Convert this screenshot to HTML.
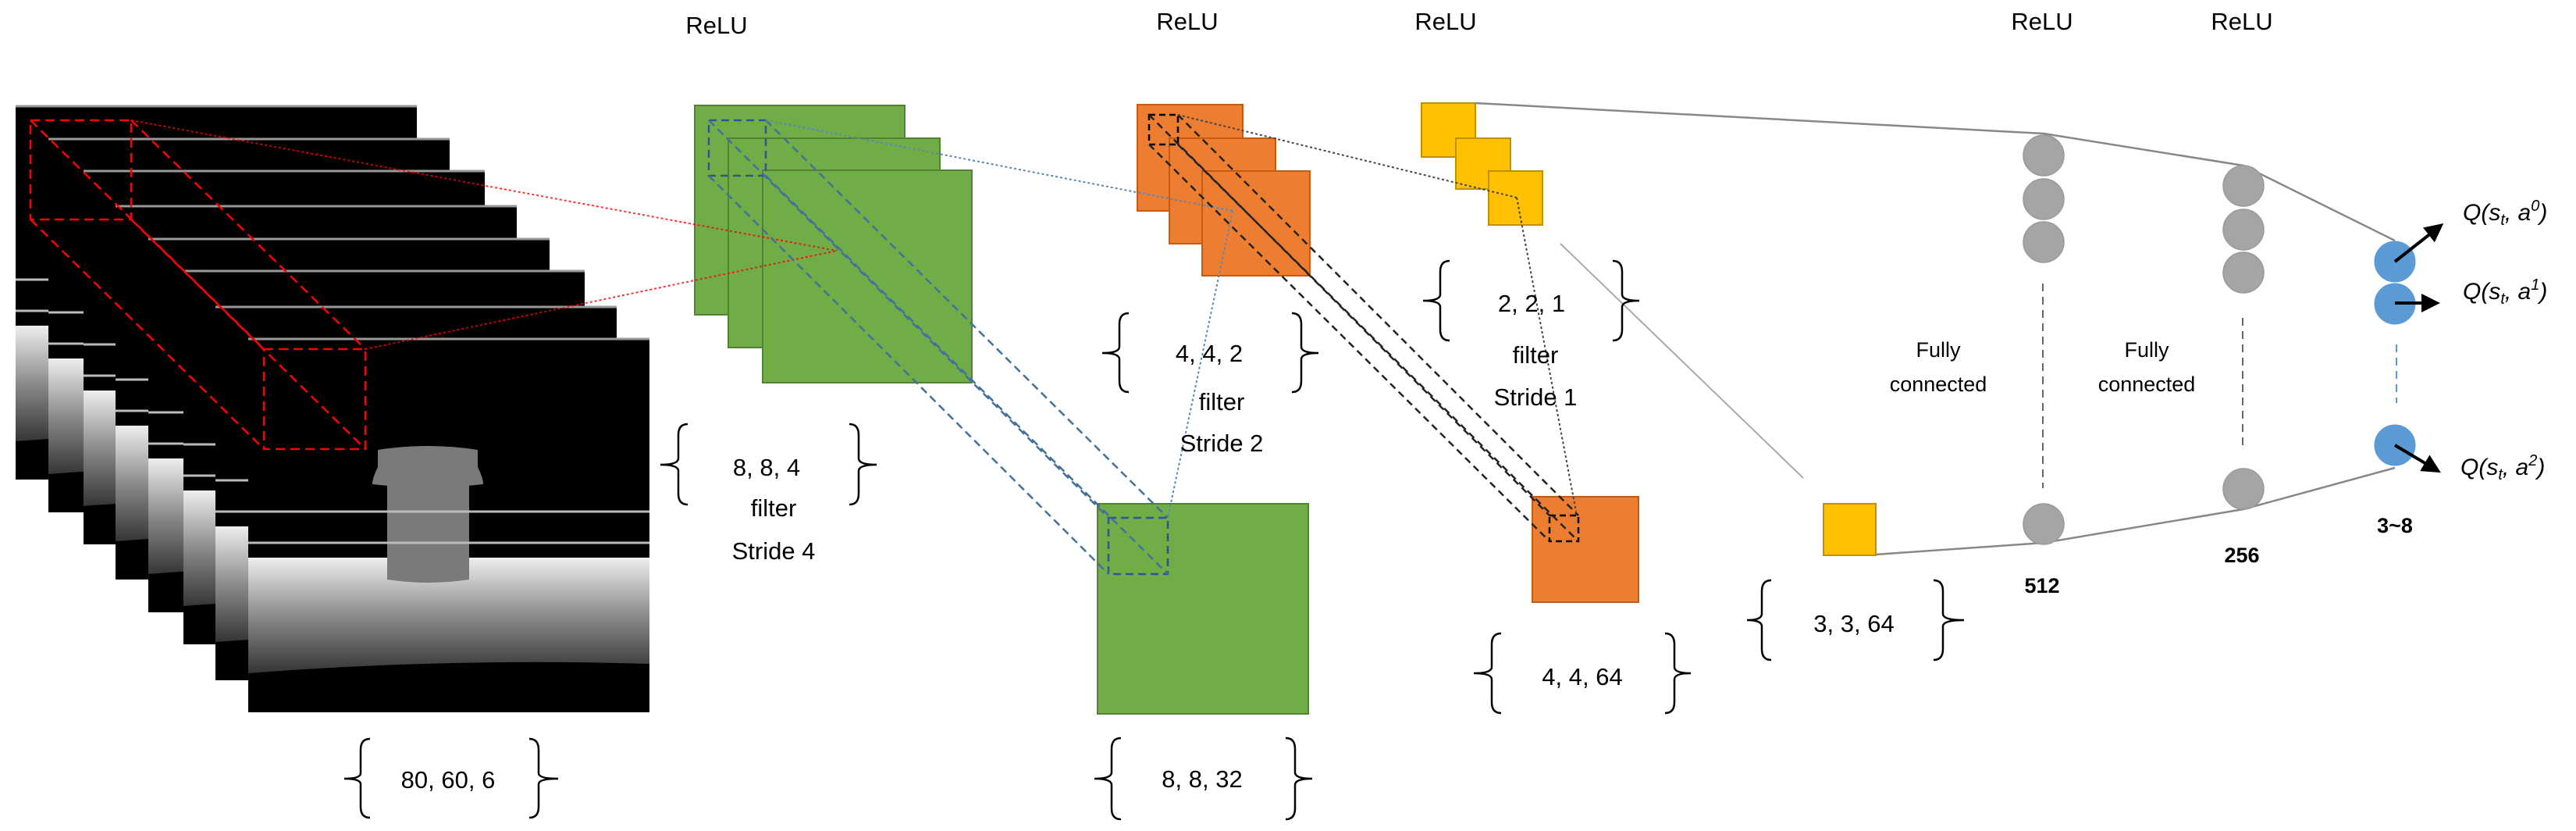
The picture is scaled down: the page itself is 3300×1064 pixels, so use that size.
<!DOCTYPE html>
<html><head><meta charset="utf-8"><style>
html,body{margin:0;padding:0;background:#fff;overflow:hidden;}
svg{display:block;}
text{font-family:"Liberation Sans",sans-serif;}
</style></head><body>
<svg width="3300" height="1064" viewBox="0 0 3300 1064" xmlns="http://www.w3.org/2000/svg">
<defs>
<linearGradient id="g" x1="0" y1="0" x2="0" y2="1">
<stop offset="0" stop-color="#eeeeee"/><stop offset="0.5" stop-color="#8a8a8a"/><stop offset="1" stop-color="#333"/>
</linearGradient>
<g id="frame">
<rect x="0" y="0" width="514" height="479" fill="#000"/>
<line x1="0" y1="1" x2="514" y2="1" stroke="#999" stroke-width="3"/>
<line x1="0" y1="223" x2="514" y2="223" stroke="#bbb" stroke-width="3"/>
<line x1="0" y1="263" x2="514" y2="263" stroke="#bbb" stroke-width="3"/>
<rect x="0" y="282" width="514" height="150" fill="url(#g)"/>
<path d="M0,430 Q257,410 514,418 L514,479 L0,479 Z" fill="#000"/>
</g>
<marker id="ar" markerWidth="6" markerHeight="6" refX="4" refY="3" orient="auto" markerUnits="strokeWidth"><path d="M0,0 L6,3 L0,6 Z" fill="#000"/></marker>
</defs>

<use href="#frame" x="20" y="135"/>
<use href="#frame" x="62" y="177"/>
<use href="#frame" x="107" y="218"/>
<use href="#frame" x="148" y="263"/>
<use href="#frame" x="190" y="305"/>
<use href="#frame" x="235" y="346"/>
<use href="#frame" x="276" y="392"/>
<g>
<rect x="318" y="433" width="514" height="479" fill="#000"/>
<line x1="318" y1="434" x2="832" y2="434" stroke="#999" stroke-width="3"/>
<rect x="318" y="714" width="514" height="150" fill="url(#g)"/>
<path d="M318,862 Q575,842 832,850 L832,912 L318,912 Z" fill="#000"/>
<path d="M496,620 L496,742 Q548,750 601,742 L601,620 Z" fill="#7a7a7a"/>
<path d="M477,620 Q477,612 484,598 L484,576 Q548,566 612,576 L612,598 Q619,612 619,620 Q548,628 477,620 Z" fill="#7a7a7a"/>
<line x1="318" y1="655" x2="832" y2="655" stroke="#bbb" stroke-width="3"/>
<line x1="318" y1="695" x2="832" y2="695" stroke="#bbb" stroke-width="3"/>
</g>

<g fill="none" stroke="#f00" stroke-width="2.5" stroke-dasharray="12,7">
<rect x="39" y="154" width="129" height="127"/>
<rect x="338" y="447" width="130" height="128"/>
<line x1="39" y1="154" x2="338" y2="447"/>
<line x1="168" y1="154" x2="468" y2="447"/>
<line x1="39" y1="281" x2="338" y2="575"/>
<line x1="168" y1="281" x2="468" y2="575"/>
</g>

<g fill="#70AD47" stroke="#548235" stroke-width="2">
<rect x="890" y="135" width="269" height="268"/>
<rect x="933" y="177" width="271" height="268"/>
<rect x="977" y="218" width="268" height="272"/>
</g>
<g fill="none" stroke="#f00" stroke-width="2" stroke-dasharray="3,3" opacity="0.8">
<line x1="168" y1="154" x2="1072" y2="321"/>
<line x1="468" y1="447" x2="1072" y2="321"/>
</g>
<rect x="908" y="154" width="73" height="71" fill="none" stroke="#2F5597" stroke-width="2.5" stroke-dasharray="10,6"/>

<rect x="1406" y="645" width="270" height="269" fill="#70AD47" stroke="#548235" stroke-width="2"/>
<rect x="1420" y="663" width="76" height="72" fill="none" stroke="#2F5597" stroke-width="2.5" stroke-dasharray="10,6"/>
<g fill="none" stroke="#41719C" stroke-width="2.5" stroke-dasharray="10,6">
<line x1="908" y1="154" x2="1420" y2="663"/>
<line x1="981" y1="154" x2="1496" y2="663"/>
<line x1="908" y1="225" x2="1420" y2="735"/>
<line x1="981" y1="225" x2="1496" y2="735"/>
</g>

<g fill="#ED7D31" stroke="#C55A11" stroke-width="2">
<rect x="1457" y="134" width="135" height="136"/>
<rect x="1498" y="177" width="136" height="135"/>
<rect x="1540" y="219" width="138" height="134"/>
</g>
<rect x="1472" y="147" width="37" height="38" fill="none" stroke="#000" stroke-width="2.5" stroke-dasharray="8,5"/>
<g fill="none" stroke="#5B86B8" stroke-width="2" stroke-dasharray="3,3">
<line x1="981" y1="154" x2="1579" y2="270"/>
<line x1="1579" y1="270" x2="1496" y2="663"/>
</g>

<g fill="#FFC000" stroke="#BF9000" stroke-width="2">
<rect x="1821" y="132" width="69" height="69"/>
<rect x="1865" y="177" width="70" height="65"/>
<rect x="1907" y="219" width="69" height="69"/>
</g>

<rect x="1963" y="636" width="136" height="135" fill="#ED7D31" stroke="#C55A11" stroke-width="2"/>
<rect x="1985" y="660" width="37" height="33" fill="none" stroke="#000" stroke-width="2.5" stroke-dasharray="8,5"/>
<g fill="none" stroke="#222" stroke-width="2.5" stroke-dasharray="9,6">
<line x1="1472" y1="147" x2="1985" y2="660"/>
<line x1="1509" y1="147" x2="2022" y2="660"/>
<line x1="1472" y1="185" x2="1985" y2="693"/>
<line x1="1509" y1="185" x2="2022" y2="693"/>
</g>
<g fill="none" stroke="#444" stroke-width="2" stroke-dasharray="3,3">
<line x1="1509" y1="147" x2="1943" y2="253"/>
<line x1="1943" y1="253" x2="2019" y2="655"/>
</g>
<line x1="1999" y1="312" x2="2310" y2="612" stroke="#aaa" stroke-width="2"/>

<g fill="none" stroke="#888" stroke-width="2.5">
<polyline points="1890,132 2618,171 2874,212 3068,308"/>
<polyline points="2403,710 2618,695 2874,652 3068,599"/>
</g>
<rect x="2336" y="645" width="67" height="66" fill="#FFC000" stroke="#BF9000" stroke-width="2"/>
<g fill="#A5A5A5" stroke="#999" stroke-width="1.5">
<circle cx="2618" cy="199" r="26"/><circle cx="2618" cy="255" r="26"/><circle cx="2618" cy="310" r="26"/>
<circle cx="2618" cy="671" r="26"/>
<circle cx="2874" cy="238" r="26"/><circle cx="2874" cy="294" r="26"/><circle cx="2874" cy="349" r="26"/>
<circle cx="2874" cy="626" r="26"/>
</g>
<g stroke="#666" stroke-width="2" stroke-dasharray="10,7">
<line x1="2617" y1="363" x2="2617" y2="625"/>
<line x1="2873" y1="407" x2="2873" y2="577"/>
</g>
<line x1="3070" y1="441" x2="3070" y2="516" stroke="#5B9BD5" stroke-width="2" stroke-dasharray="10,7"/>
<g fill="#5B9BD5" stroke="#5B9BD5">
<circle cx="3068" cy="335" r="26"/><circle cx="3068" cy="389" r="26"/><circle cx="3068" cy="570" r="26"/>
</g>
<g stroke="#000" stroke-width="4" marker-end="url(#ar)">
<line x1="3068" y1="335" x2="3124" y2="291"/>
<line x1="3068" y1="388" x2="3118" y2="388"/>
<line x1="3068" y1="570" x2="3120" y2="601"/>
</g>

<g fill="none" stroke="#000" stroke-width="2.5">
<path d="M474,946 Q462,946 462,960 L462,990 Q462,997 441,997 Q462,997 462,1004 L462,1033 Q462,1047 474,1047"/>
<path d="M678,946 Q690,946 690,960 L690,990 Q690,997 715,997 Q690,997 690,1004 L690,1033 Q690,1047 678,1047"/>
<path d="M881,543 Q869,543 869,557 L869,587 Q869,595 846,595 Q869,595 869,603 L869,632 Q869,646 881,646"/>
<path d="M1088,543 Q1100,543 1100,557 L1100,587 Q1100,595 1123,595 Q1100,595 1100,603 L1100,632 Q1100,646 1088,646"/>
<path d="M1446,401 Q1434,401 1434,415 L1434,444 Q1434,452 1412,452 Q1434,452 1434,460 L1434,488 Q1434,502 1446,502"/>
<path d="M1655,401 Q1667,401 1667,415 L1667,444 Q1667,452 1689,452 Q1667,452 1667,460 L1667,488 Q1667,502 1655,502"/>
<path d="M1857,334 Q1845,334 1845,348 L1845,377 Q1845,385 1823,385 Q1845,385 1845,393 L1845,422 Q1845,436 1857,436"/>
<path d="M2066,334 Q2078,334 2078,348 L2078,377 Q2078,385 2100,385 Q2078,385 2078,393 L2078,422 Q2078,436 2066,436"/>
<path d="M1436,945 Q1424,945 1424,959 L1424,989 Q1424,997 1402,997 Q1424,997 1424,1005 L1424,1035 Q1424,1049 1436,1049"/>
<path d="M1647,945 Q1659,945 1659,959 L1659,989 Q1659,997 1681,997 Q1659,997 1659,1005 L1659,1035 Q1659,1049 1647,1049"/>
<path d="M1923,811 Q1911,811 1911,825 L1911,854 Q1911,862 1888,862 Q1911,862 1911,870 L1911,899 Q1911,913 1923,913"/>
<path d="M2133,811 Q2145,811 2145,825 L2145,854 Q2145,862 2166,862 Q2145,862 2145,870 L2145,899 Q2145,913 2133,913"/>
<path d="M2269,743 Q2257,743 2257,757 L2257,786 Q2257,794 2238,794 Q2257,794 2257,802 L2257,831 Q2257,845 2269,845"/>
<path d="M2477,743 Q2489,743 2489,757 L2489,786 Q2489,794 2516,794 Q2489,794 2489,802 L2489,831 Q2489,845 2477,845"/>
</g>

<g font-size="31" fill="#000" text-anchor="middle">
<text x="918" y="43">ReLU</text>
<text x="1521" y="38">ReLU</text>
<text x="1852" y="38">ReLU</text>
<text x="2616" y="38">ReLU</text>
<text x="2872" y="38">ReLU</text>
<text x="574" y="1009">80, 60, 6</text>
<text x="982" y="609">8, 8, 4</text>
<text x="991" y="661">filter</text>
<text x="991" y="716">Stride 4</text>
<text x="1549" y="463">4, 4, 2</text>
<text x="1565" y="525">filter</text>
<text x="1565" y="578">Stride 2</text>
<text x="1962" y="399">2, 2, 1</text>
<text x="1967" y="465">filter</text>
<text x="1967" y="519">Stride 1</text>
<text x="1540" y="1008">8, 8, 32</text>
<text x="2027" y="877">4, 4, 64</text>
<text x="2375" y="809">3, 3, 64</text>
</g>
<g font-size="27" fill="#000" text-anchor="middle">
<text x="2483" y="457">Fully</text>
<text x="2483" y="501">connected</text>
<text x="2750" y="457">Fully</text>
<text x="2750" y="501">connected</text>
</g>
<g font-size="27" font-weight="bold" fill="#000" text-anchor="middle">
<text x="2616" y="759">512</text>
<text x="2872" y="720">256</text>
<text x="3068" y="682">3~8</text>
</g>
<g font-family="Liberation Serif,serif" font-style="italic" font-size="30" fill="#000">
<text x="3155" y="282">Q(s<tspan font-size="20" dy="6">t</tspan><tspan dy="-6">, a</tspan><tspan font-size="20" dy="-12">0</tspan><tspan dy="12">)</tspan></text>
<text x="3155" y="383">Q(s<tspan font-size="20" dy="6">t</tspan><tspan dy="-6">, a</tspan><tspan font-size="20" dy="-12">1</tspan><tspan dy="12">)</tspan></text>
<text x="3152" y="608">Q(s<tspan font-size="20" dy="6">t</tspan><tspan dy="-6">, a</tspan><tspan font-size="20" dy="-12">2</tspan><tspan dy="12">)</tspan></text>
</g>
</svg>
</body></html>
